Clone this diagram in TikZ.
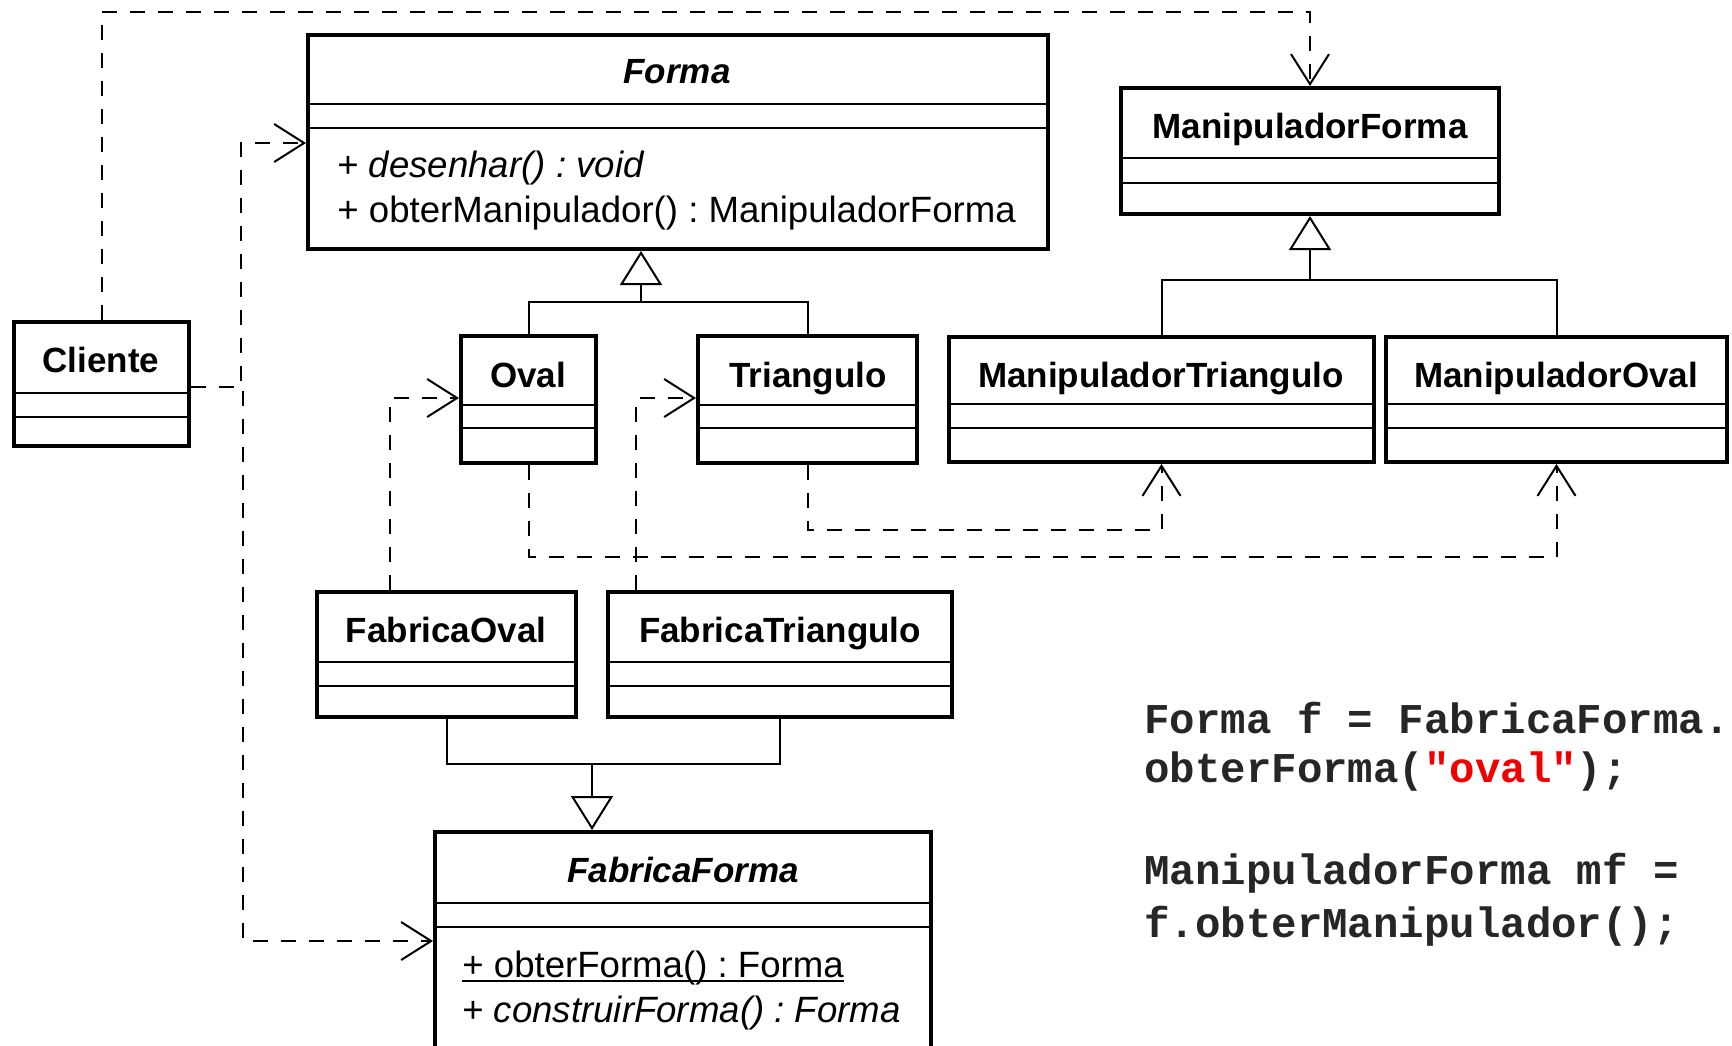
\documentclass[tikz,border=0pt]{standalone}
\usepackage{fontspec}
\setmainfont{Liberation Sans}
\newfontfamily\codefont{Liberation Mono}
\usetikzlibrary{arrows.meta}
\definecolor{codegray}{HTML}{262626}
\definecolor{codered}{HTML}{F00000}
\frenchspacing

\tikzset{
  clsbox/.style={draw, line width=2pt, rectangle, inner sep=0pt, fill=white},
  divline/.style={line width=1pt},
  clstitle/.style={font=\fontsize{17.5}{20}\selectfont\bfseries, inner sep=0pt, anchor=base},
  member/.style={font=\fontsize{18.3}{22}\selectfont, inner sep=0pt, anchor=base west},
  dep/.style={line width=1pt, dash pattern=on 7.5pt off 6.5pt,
    -{Straight Barb[length=15pt,width=19pt]}},
  genline/.style={line width=1pt},
  gen/.style={line width=1pt, -{Triangle[open, length=17pt, width=21pt, fill=white]}},
  codeline/.style={font=\codefont\fontsize{21.2}{26}\selectfont\bfseries,
    text=codegray, inner sep=0pt, anchor=base west},
}

% class box: name, left, top, right, bottom, first divider, second divider (pixel units)
\newcommand\classbox[7]{%
  \node[clsbox, minimum width={(#4-#2)*0.5pt}, minimum height={(#5-#3)*0.5pt}]
    (#1) at ({(#2+#4)/2},{(#3+#5)/2}) {};
  \draw[divline] (#1.west |- 0,#6) -- (#1.east |- 0,#6);
  \draw[divline] (#1.west |- 0,#7) -- (#1.east |- 0,#7);
}

\begin{document}
\begin{tikzpicture}[x=0.5pt, y=-0.5pt]
\clip (0,0) rectangle (1732,1045);
\fill[white] (0,0) rectangle (1732,1045);

% classes
\classbox{forma}{308}{35}{1048}{249}{104}{128}
\classbox{mforma}{1121}{88}{1499}{214}{158}{183}
\classbox{cliente}{14}{322}{189}{446}{393}{417}
\classbox{oval}{461}{336}{596}{463}{405}{428}
\classbox{tri}{698}{336}{917}{463}{405}{428}
\classbox{mtri}{949}{337}{1374}{462}{404}{428}
\classbox{mov}{1386}{337}{1727}{462}{404}{428}
\classbox{fabov}{317}{592}{576}{717}{662}{686}
\classbox{fabtri}{608}{592}{952}{717}{662}{686}
\classbox{ffabrica}{435}{832}{931}{1070}{903}{927}

% class names
\node[clstitle] (forma-t) at (677,83) {\textit{Forma}};
\node[clstitle] (mforma-t) at (1310,138) {ManipuladorForma};
\node[clstitle] (cliente-t) at (101,372) {Cliente};
\node[clstitle] (oval-t) at (528,387) {Oval};
\node[clstitle] (tri-t) at (808,387) {Triangulo};
\node[clstitle] (mtri-t) at (1161,387) {ManipuladorTriangulo};
\node[clstitle] (mov-t) at (1556,387) {ManipuladorOval};
\node[clstitle] (fabov-t) at (446,642) {FabricaOval};
\node[clstitle] (fabtri-t) at (780,642) {FabricaTriangulo};
\node[clstitle] (ffabrica-t) at (683,882) {\textit{FabricaForma}};

% operations
\node[member] (forma-m1) at (337,177) {+ \textit{desenhar() : void}};
\node[member] (forma-m2) at (337,222) {+ obterManipulador() : ManipuladorForma};
\node[member] (ffabrica-m1) at (462,977) {+ obterForma() : Forma};
\draw[line width=1pt] ([yshift=-2pt]ffabrica-m1.base west) -- ([yshift=-2pt]ffabrica-m1.base east);
\node[member] (ffabrica-m2) at (462,1022) {+ \textit{construirForma() : Forma}};

% generalizations
\draw[genline] (oval.north) |- (tri.north |- 0,302) -- (tri.north);
\draw[gen] (641,302) -- (641,0 |- forma.south);
\draw[genline] (mtri.north) |- (mov.north |- 0,280) -- (mov.north);
\draw[gen] (mforma.south |- 0,280) -- (mforma.south);
\draw[genline] (fabov.south) |- (fabtri.south |- 0,764) -- (fabtri.south);
\draw[gen] (592,764) -- (592,0 |- ffabrica.north);

% dependencies
\draw[dep] (cliente.north) -- (cliente.north |- 0,12) -| (mforma.north);
\draw[dep] (cliente.east |- 0,387) -| (241,143) -- (forma.west |- 0,143);
\draw[dep] (cliente.east |- 0,387) -| (243,941) -- (ffabrica.west |- 0,941);
\draw[dep] (390,0 |- fabov.north) |- (oval.west |- 0,398);
\draw[dep] (636,0 |- fabtri.north) |- (tri.west |- 0,398);
\draw[dep] (oval.south) -- (oval.south |- 0,557) -| (mov.south);
\draw[dep] (tri.south) -- (tri.south |- 0,530) -| (mtri.south);

% client code
\node[codeline] (code1) at (1144,733) {Forma f = FabricaForma.};
\node[codeline] (code2) at (1144,782) {obterForma(\textcolor{codered}{"oval"});};
\node[codeline] (code3) at (1144,884) {ManipuladorForma mf =};
\node[codeline] (code4) at (1144,937) {f.obterManipulador();};
\end{tikzpicture}
\end{document}
